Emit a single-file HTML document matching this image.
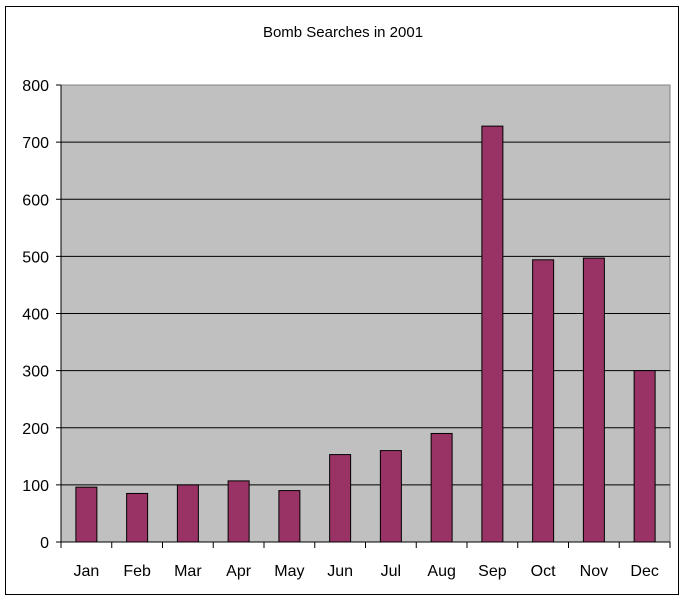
<!DOCTYPE html>
<html><head><meta charset="utf-8"><style>
body{margin:0;background:#fff;}
svg text{font-family:"Liberation Sans",Arial,sans-serif;}
</style></head><body>
<svg width="688" height="602" xmlns="http://www.w3.org/2000/svg">
<rect x="5.5" y="6.5" width="673" height="588" fill="#fff" stroke="#000" stroke-width="1"/>
<text x="343" y="37" font-size="15" text-anchor="middle">Bomb Searches in 2001</text>
<rect x="61" y="85" width="609" height="457" fill="#c0c0c0" stroke="#808080"/>
<g id="grid"></g><g id="bars"></g><g id="axes"></g>
</svg>
<script>
const categories=["Jan","Feb","Mar","Apr","May","Jun","Jul","Aug","Sep","Oct","Nov","Dec"];
const values=[96,85,100,107,90,153,160,190,728,494,497,300];
const yTicks=[0,100,200,300,400,500,600,700,800];
const L=61,R=670,T=85,B=542,YMAX=800;
const NS="http://www.w3.org/2000/svg";
const y=v=>B-(v/YMAX)*(B-T);
const bw=(R-L)/categories.length;
const x=i=>L+bw*i;
function mk(t,a,p){const e=document.createElementNS(NS,t);for(const k in a)e.setAttribute(k,a[k]);p.appendChild(e);return e;}
const grid=document.getElementById('grid'),bars=document.getElementById('bars'),axes=document.getElementById('axes');
yTicks.forEach(v=>{
 if(v>0&&v<YMAX){const g=mk('line',{x1:L,x2:R,y1:y(v),y2:y(v),stroke:'#000','stroke-width':1},grid);
 
 }
 const tk=mk('line',{x1:L-5,x2:L,y1:y(v),y2:y(v),stroke:'#000'},axes);
 
 
 const t=mk('text',{x:L-12,y:y(v)+6,'font-size':16,'text-anchor':'end'},axes);t.textContent=v;
 
 
});
values.forEach((v,i)=>{
 const cx=x(i)+bw/2;
 const r=mk('rect',{x:cx-10.5,y:y(v),width:21,height:B-y(v),fill:'#993366',stroke:'#000','stroke-width':1},bars);
 
 
 const t=mk('text',{x:cx,y:576,'font-size':16,'text-anchor':'middle'},axes);t.textContent=categories[i];
 
 
});
for(let i=0;i<=categories.length;i++){
 const tk=mk('line',{x1:x(i),x2:x(i),y1:B,y2:B+6,stroke:'#000'},axes);
 
 
}
const xa=mk('line',{x1:L,x2:R,y1:B,y2:B,stroke:'#000'},axes);


const ya=mk('line',{x1:L,x2:L,y1:T,y2:B,stroke:'#000'},axes);


</script>
</body></html>
